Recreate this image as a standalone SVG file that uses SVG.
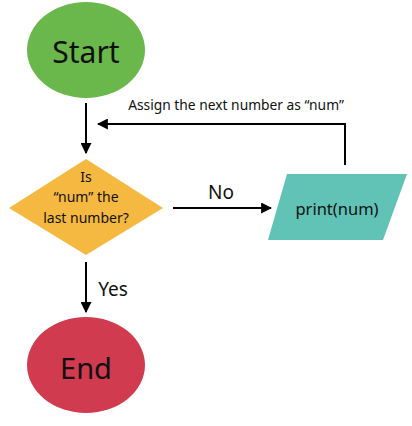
<svg xmlns="http://www.w3.org/2000/svg" width="412" height="426" viewBox="0 0 412 426">
<defs>
<style>
text{font-family:"Noto Sans","Liberation Sans",sans-serif;fill:#111;text-anchor:middle}
.c{stroke:#000;stroke-width:2;fill:none}
</style>
<marker id="ah" viewBox="0 0 10 10" refX="9" refY="5" markerWidth="5.5" markerHeight="5.5" orient="auto" markerUnits="strokeWidth">
<path d="M0,0L10,5L0,10z" fill="#000"/>
</marker>
</defs>
<rect width="412" height="426" fill="#fff"/>
<g id="start">
<ellipse cx="86" cy="50" rx="59" ry="48" fill="#6AB74B"/>
<text x="86" y="63" font-size="30">Start</text>
</g>
<g id="decision">
<polygon points="86,159 163,208 86,255 9,208" fill="#F5B942"/>
<text x="86" y="182" font-size="14">Is</text>
<text x="86" y="202" font-size="14">“num” the</text>
<text x="86" y="223" font-size="14">last number?</text>
</g>
<g id="print">
<polygon points="287,174 407,174 383,240 268,240" fill="#61C3B6"/>
<text x="337" y="215" font-size="16.5">print(num)</text>
</g>
<g id="end">
<ellipse cx="86" cy="365" rx="59" ry="48" fill="#D13B4F"/>
<text x="86" y="379" font-size="29">End</text>
</g>
<g id="connectors">
<line class="c" x1="86" y1="103" x2="86" y2="153" marker-end="url(#ah)"/>
<polyline class="c" points="345,165 345,124 98,124" marker-end="url(#ah)"/>
<line class="c" x1="173" y1="208" x2="271" y2="208" marker-end="url(#ah)"/>
<line class="c" x1="86" y1="262" x2="86" y2="312" marker-end="url(#ah)"/>
<text x="236" y="110" font-size="13.8">Assign the next number as “num”</text>
<text x="221" y="199" font-size="19">No</text>
<text x="113" y="296" font-size="19">Yes</text>
</g>
</svg>
